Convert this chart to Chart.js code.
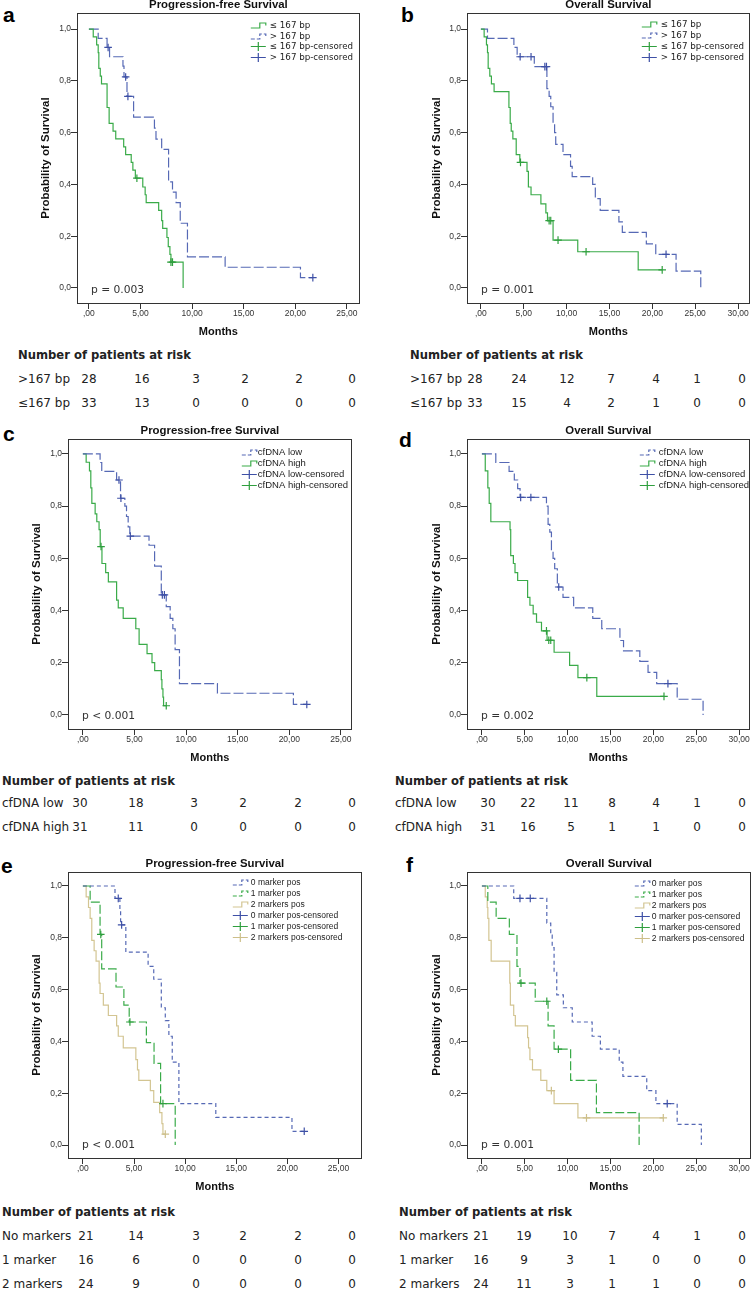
<!DOCTYPE html>
<html><head><meta charset="utf-8">
<script src="https://cdn.jsdelivr.net/npm/chart.js@4.4.1/dist/chart.umd.min.js"></script>
<style>
html,body{margin:0;padding:0;background:#fff;}
#fig{position:relative;width:755px;height:1293px;overflow:hidden;background:#fff;}
#fig canvas{position:absolute;}
.t{position:absolute;white-space:nowrap;font-family:"DejaVu Sans",sans-serif;color:#222;line-height:14px;}
.lbl{font-size:12px;transform:translateY(-50%);}
.num{font-size:12px;transform:translate(-50%,-50%);}
.hdr{font-size:11.6px;font-weight:bold;transform:translateY(-50%);}
.letter{position:absolute;font-family:"Liberation Sans",Arial,sans-serif;font-weight:bold;font-size:21px;line-height:21px;color:#000;}
</style></head><body><div id="fig"></div>
<script>
// ---------- axis ticks ----------
const TICKS_PFS = [0,5,10,15,20,25];
const TICKS_OS  = [0,5,10,15,20,25,30];
const TICKS_Y   = [0,0.2,0.4,0.6,0.8,1.0];

// ---------- panel a : PFS by fragment size ----------
const aLowT  = [0.42,0.75,0.9,0.96,1.1,1.22,1.76,1.96,2.34,2.6,3.37,3.56,4.1,4.26,4.5,5.22,5.45,5.55,6.76,7.05,7.15,7.56,7.69,7.85,7.95,9.13];
const aLowS  = [0.970,0.939,0.909,0.848,0.818,0.788,0.697,0.636,0.606,0.576,0.545,0.515,0.485,0.455,0.424,0.390,0.360,0.330,0.300,0.260,0.230,0.195,0.160,0.130,0.100,0];
const aLowC  = [4.65,7.95,8.1];
const aHighT = [0.9,1.76,2.0,3.3,3.4,3.69,4.33,6.35,6.5,7.05,7.72,8.1,8.45,8.85,9.55,13.2,20.5];
const aHighS = [0.964,0.929,0.893,0.857,0.815,0.740,0.660,0.617,0.575,0.535,0.410,0.370,0.330,0.250,0.120,0.080,0.040];
const aHighC = [1.86,3.56,3.78,21.7];

// ---------- panel b : OS by fragment size ----------
const bLowT  = [0.38,0.65,0.77,0.85,1.04,1.23,1.54,3.27,3.42,3.54,3.73,4.12,4.54,5.38,5.54,5.85,7.0,7.58,7.77,8.42,11.3,18.35];
const bLowS  = [0.970,0.939,0.909,0.848,0.818,0.788,0.758,0.697,0.636,0.606,0.576,0.515,0.485,0.450,0.390,0.360,0.325,0.290,0.260,0.185,0.140,0.070];
const bLowC  = [4.62,7.96,8.15,9.0,12.27,21.15];
const bHighT = [0.77,3.85,4.23,6.23,7.7,7.96,8.15,8.42,8.6,8.73,9.58,10.46,10.65,13.04,13.35,13.92,16.1,16.5,19.3,20.4,22.77,25.65];
const bHighS = [0.964,0.929,0.893,0.855,0.770,0.740,0.700,0.640,0.600,0.555,0.515,0.470,0.430,0.400,0.345,0.300,0.255,0.215,0.170,0.130,0.065,0];
const bHighC = [4.58,5.85,7.46,7.65,21.6];

// ---------- panel c : PFS by cfDNA ----------
const cLowT  = [1.67,1.83,3.27,3.65,4.07,4.23,4.39,4.55,6.41,6.95,7.6,8.08,8.46,8.72,8.94,9.36,13.04,20.4];
const cLowS  = [0.967,0.933,0.900,0.830,0.800,0.760,0.720,0.685,0.650,0.570,0.460,0.415,0.370,0.330,0.250,0.120,0.083,0.040];
const cLowC  = [3.5,3.69,4.6,7.7,7.9,21.7];
const cHighT = [0.32,0.64,0.77,0.87,1.19,1.35,1.57,1.68,1.85,2.21,2.47,3.27,3.43,3.91,5.13,5.45,6.22,6.7,6.96,7.6,7.66,7.76,7.82];
const cHighS = [0.968,0.935,0.870,0.810,0.770,0.740,0.710,0.645,0.580,0.545,0.510,0.440,0.410,0.370,0.330,0.270,0.235,0.200,0.170,0.135,0.100,0.068,0.035];
const cHighC = [1.76,8.08];

// ---------- panel d : OS by cfDNA ----------
const dLowT  = [1.62,3.17,3.78,4.17,4.45,7.53,7.72,7.92,8.11,8.3,8.49,8.8,9.46,10.7,12.93,13.98,16.1,16.52,18.42,19.38,20.39,22.78,25.8];
const dLowS  = [0.967,0.933,0.900,0.867,0.833,0.800,0.730,0.700,0.630,0.600,0.560,0.490,0.450,0.410,0.370,0.330,0.285,0.245,0.205,0.163,0.120,0.060,0];
const dLowC  = [4.52,5.71,8.96,21.7];
const dHighT = [0.39,0.69,0.85,1.04,3.28,3.36,3.67,3.86,4.17,5.33,5.6,5.98,6.37,6.95,7.6,8.42,10.23,11.2,13.4];
const dHighS = [0.935,0.870,0.810,0.740,0.710,0.610,0.580,0.545,0.515,0.450,0.420,0.387,0.355,0.322,0.286,0.240,0.190,0.143,0.071];
const dHighC = [7.53,7.8,8.03,12.24,21.24];

// ---------- panel e : PFS by number of markers ----------
const eZeroT = [3.14,3.62,3.69,4.2,6.38,6.93,7.67,8.06,8.41,8.74,9.39,13.0,20.45];
const eZeroS = [0.952,0.900,0.850,0.745,0.690,0.640,0.530,0.480,0.420,0.320,0.160,0.107,0.053];
const eZeroC = [3.46,3.79,21.65];
const eOneT  = [0.71,1.68,1.84,3.24,4.01,4.53,6.21,6.96,7.6,9.03];
const eOneS  = [0.938,0.813,0.680,0.610,0.540,0.475,0.395,0.315,0.160,0];
const eOneC  = [1.75,4.6,7.83];
const eTwoT  = [0.32,0.55,0.71,0.87,1.1,1.29,1.59,1.68,2.0,2.49,3.3,3.46,3.95,5.18,5.34,5.47,6.6,6.93,7.51,7.73,7.83];
const eTwoS  = [0.958,0.917,0.875,0.790,0.750,0.710,0.625,0.585,0.540,0.500,0.460,0.420,0.375,0.330,0.290,0.250,0.210,0.165,0.125,0.083,0.042];
const eTwoC  = [8.06];

// ---------- panel f : OS by number of markers ----------
const fZeroT = [3.71,7.57,8.03,8.2,8.42,8.73,9.5,10.54,12.86,13.82,16.02,16.45,19.23,20.3,22.78,25.6];
const fZeroS = [0.952,0.857,0.810,0.762,0.667,0.580,0.530,0.475,0.420,0.370,0.320,0.265,0.210,0.160,0.080,0];
const fZeroC = [4.44,5.64,21.62];
const fOneT  = [0.69,1.66,3.2,4.09,4.44,6.22,7.72,8.42,10.35,13.36,18.34];
const fOneS  = [0.938,0.875,0.813,0.690,0.625,0.555,0.460,0.370,0.250,0.125,0];
const fOneC  = [4.56,7.57,8.92];
const fTwoT  = [0.39,0.62,0.69,0.81,1.08,3.25,3.32,3.71,3.9,5.33,5.44,5.6,5.9,6.87,7.57,8.42,11.2];
const fTwoS  = [0.958,0.917,0.875,0.790,0.710,0.625,0.540,0.500,0.460,0.415,0.375,0.330,0.290,0.250,0.210,0.160,0.105];
const fTwoC  = [8.1,12.2,21.16];

// ---------- titles / p-values ----------
const TITLES = {a:'Progression-free Survival', b:'Overall Survival', c:'Progression-free Survival', d:'Overall Survival', e:'Progression-free Survival', f:'Overall Survival'};
const PVALS  = {a:'p = 0.003', b:'p = 0.001', c:'p < 0.001', d:'p = 0.002', e:'p < 0.001', f:'p = 0.001'};

// ---------- risk tables ----------
const riskA_labels = ['>167 bp','≤167 bp'];
const riskA = [[28,16,3,2,2,0],[33,13,0,0,0,0]];
const riskB_labels = ['>167 bp','≤167 bp'];
const riskB = [[28,24,12,7,4,1,0],[33,15,4,2,1,0,0]];
const riskC_labels = ['cfDNA low','cfDNA high'];
const riskC = [[30,18,3,2,2,0],[31,11,0,0,0,0]];
const riskD_labels = ['cfDNA low','cfDNA high'];
const riskD = [[30,22,11,8,4,1,0],[31,16,5,1,1,0,0]];
const riskE_labels = ['No markers','1 marker','2 markers'];
const riskE = [[21,14,3,2,2,0],[16,6,0,0,0,0],[24,9,0,0,0,0]];
const riskF_labels = ['No markers','1 marker','2 markers'];
const riskF = [[21,19,10,7,4,1,0],[16,9,3,1,0,0,0],[24,11,3,1,1,0,0]];

// ---------- styles ----------
const STYLES = {
  green:     {color:'#3aab49', cens:'#2f9f3e', dash:[]},
  blueLong:  {color:'#5669b5', cens:'#3e50a6', dash:[10,3]},
  blueShort: {color:'#5669b5', cens:'#3e50a6', dash:[4,3]},
  greenLong: {color:'#3aab49', cens:'#2f9f3e', dash:[9,3]},
  tan:       {color:'#d3c592', cens:'#cdbf8a', dash:[]}
};

const PANELS = [
  {id:'a', ticks:TICKS_PFS, series:[
    {name:'≤ 167 bp', T:aLowT, S:aLowS, C:aLowC, style:'green'},
    {name:'> 167 bp', T:aHighT, S:aHighS, C:aHighC, style:'blueLong'}]},
  {id:'b', ticks:TICKS_OS, series:[
    {name:'≤ 167 bp', T:bLowT, S:bLowS, C:bLowC, style:'green'},
    {name:'> 167 bp', T:bHighT, S:bHighS, C:bHighC, style:'blueLong'}]},
  {id:'c', ticks:TICKS_PFS, series:[
    {name:'cfDNA low', T:cLowT, S:cLowS, C:cLowC, style:'blueLong'},
    {name:'cfDNA high', T:cHighT, S:cHighS, C:cHighC, style:'green'}]},
  {id:'d', ticks:TICKS_OS, series:[
    {name:'cfDNA low', T:dLowT, S:dLowS, C:dLowC, style:'blueLong'},
    {name:'cfDNA high', T:dHighT, S:dHighS, C:dHighC, style:'green'}]},
  {id:'e', ticks:TICKS_PFS, series:[
    {name:'0 marker pos', T:eZeroT, S:eZeroS, C:eZeroC, style:'blueShort'},
    {name:'1 marker pos', T:eOneT, S:eOneS, C:eOneC, style:'greenLong'},
    {name:'2 markers pos', T:eTwoT, S:eTwoS, C:eTwoC, style:'tan'}]},
  {id:'f', ticks:TICKS_OS, series:[
    {name:'0 marker pos', T:fZeroT, S:fZeroS, C:fZeroC, style:'blueShort'},
    {name:'1 marker pos', T:fOneT, S:fOneS, C:fOneC, style:'greenLong'},
    {name:'2 markers pos', T:fTwoT, S:fTwoS, C:fTwoC, style:'tan'}]}
];

// ---------- layout (pixels) ----------
const GEOM = {
  a:{box:[77,362,13,303],  x:[-1.154,26.25], y:[-0.058,1.062], cl:39,  leg:[109,90,12,10.7], legFont:'8.7px "DejaVu Sans"', letter:[3,4]},
  b:{box:[467,752,13,303], x:[-1.62,31.37],  y:[-0.058,1.062], cl:430, leg:[108,89,11,11],   legFont:'8.7px "DejaVu Sans"', letter:[401,4]},
  c:{box:[68,354,439,729], x:[-1.44,26.06],  y:[-0.054,1.057], cl:30,  leg:[110,94,13,11],   legFont:'9.5px "Liberation Sans"', letter:[3,423]},
  d:{box:[467,752,439,729],x:[-1.74,31.25],  y:[-0.054,1.057], cl:430, leg:[110,91,13,11],   legFont:'9.5px "Liberation Sans"', letter:[399,429]},
  e:{box:[68,364,872,1158],x:[-1.456,27.28], y:[-0.050,1.054], cl:30,  leg:[129,111,10,11],  legFont:'8.5px "Liberation Sans"', letter:[1,855]},
  f:{box:[467,753,872,1158],x:[-1.74,31.37], y:[-0.050,1.054], cl:430, leg:[116,99,11,11],   legFont:'8.6px "Liberation Sans"', letter:[406,854]}
};
const TABLES = {
  a:{labels:riskA_labels, rows:riskA, x:18,  hy:355,  ry:[379,403],      cols:[89,142,196,245,299,352]},
  b:{labels:riskB_labels, rows:riskB, x:410, hy:355,  ry:[379,403],      cols:[475,519,567,611,656,697,742]},
  c:{labels:riskC_labels, rows:riskC, x:2,   hy:781,  ry:[803,827],      cols:[80,136,194,243,298,352]},
  d:{labels:riskD_labels, rows:riskD, x:395, hy:781,  ry:[803,827],      cols:[488,528,571,612,656,697,742]},
  e:{labels:riskE_labels, rows:riskE, x:2,   hy:1212, ry:[1236,1260,1284],cols:[86,136,196,243,298,352]},
  f:{labels:riskF_labels, rows:riskF, x:399, hy:1212, ry:[1236,1260,1284],cols:[481,524,570,612,656,697,742]}
};

// ---------- helpers ----------
function stepPoints(T,S,C){
  const pts=[{x:0,y:1}];
  T.forEach((t,i)=>pts.push({x:t,y:S[i]}));
  const lastT=T[T.length-1];
  const lastC=C.length?Math.max(...C):0;
  if(lastC>lastT) pts.push({x:lastC,y:S[S.length-1]});
  return pts;
}
function survAt(T,S,t){let v=1;for(let i=0;i<T.length;i++){if(T[i]<=t)v=S[i];}return v;}
const fmtX=v=>v===0?',00':v.toFixed(2).replace('.',',');
const fmtY=v=>v.toFixed(1).replace('.',',');
const al=(p)=>Math.round(p-0.5)+0.5;

const decor={
  id:'decor',
  afterDraw(chart,args,o){
    const {ctx,chartArea:ca}=chart;
    ctx.save();
    ctx.strokeStyle='#333';ctx.lineWidth=1;ctx.setLineDash([]);
    ctx.strokeRect(al(ca.left),al(ca.top),al(ca.right)-al(ca.left),al(ca.bottom)-al(ca.top));
    // legend
    const [sdx,tdx,dy,gap]=o.leg;
    const sx=ca.right-sdx, tx=ca.right-tdx;
    ctx.font=o.legFont;ctx.textBaseline='middle';ctx.textAlign='left';
    o.items.forEach((it,i)=>{
      const y=Math.round(ca.top+dy+i*gap)+0.5;
      ctx.strokeStyle=it.color;ctx.lineWidth=1.2;
      if(it.kind==='line'){
        ctx.setLineDash(it.dash.length?[4,2]:[]);
        ctx.beginPath();ctx.moveTo(sx,y+2.5);ctx.lineTo(sx+9,y+2.5);ctx.lineTo(sx+9,y-2.5);ctx.lineTo(sx+15,y-2.5);ctx.lineTo(sx+15,y);ctx.stroke();
      }else{
        ctx.setLineDash([]);
        ctx.beginPath();ctx.moveTo(sx,y);ctx.lineTo(sx+15,y);ctx.moveTo(sx+7.5,y-4.5);ctx.lineTo(sx+7.5,y+4.5);ctx.stroke();
      }
      ctx.fillStyle='#222';ctx.fillText(it.label,tx,y);
    });
    // p-value
    ctx.font='10.7px "DejaVu Sans"';ctx.fillStyle='#333';ctx.textBaseline='middle';
    ctx.fillText(o.p,ca.left+14,ca.bottom-13);
    ctx.restore();
  }
};

const fig=document.getElementById('fig');
PANELS.forEach(p=>{
  const g=GEOM[p.id];
  const TOP=14, XH=36, RP=3;
  const W=g.box[1]+RP-g.cl, H=g.box[3]-g.box[2]+TOP+XH;
  const cv=document.createElement('canvas');
  cv.width=W;cv.height=H;cv.style.width=W+'px';cv.style.height=H+'px';
  cv.style.left=g.cl+'px';cv.style.top=(g.box[2]-TOP)+'px';
  fig.appendChild(cv);
  const ds=[];
  p.series.forEach(s=>{const st=STYLES[s.style];
    ds.push({type:'scatter',label:s.name,data:stepPoints(s.T,s.S,s.C),showLine:true,stepped:'before',
      borderColor:st.color,backgroundColor:st.color,borderWidth:1.2,borderDash:st.dash,pointRadius:0,fill:false,order:2});});
  p.series.forEach(s=>{const st=STYLES[s.style];
    ds.push({type:'scatter',label:s.name+'-censored',data:s.C.map(t=>({x:t,y:survAt(s.T,s.S,t)})),showLine:false,
      pointStyle:'cross',pointRadius:3.8,borderColor:st.cens,backgroundColor:st.cens,borderWidth:1.2,order:1});});
  const items=p.series.map(s=>({label:s.name,kind:'line',color:STYLES[s.style].color,dash:STYLES[s.style].dash}))
    .concat(p.series.map(s=>({label:s.name+'-censored',kind:'cens',color:STYLES[s.style].cens})));
  new Chart(cv,{
    type:'scatter',
    data:{datasets:ds},
    options:{
      responsive:false,animation:false,events:[],devicePixelRatio:1,
      layout:{padding:{left:0,right:RP,top:0,bottom:0}},
      plugins:{
        legend:{display:false},tooltip:{enabled:false},
        title:{display:true,fullSize:false,text:TITLES[p.id],color:'#111',
          font:{family:'"Liberation Sans", Arial, sans-serif',size:11.4,weight:'bold',lineHeight:'12px'},padding:{top:0,bottom:2}},
        decor:{leg:g.leg,legFont:g.legFont,items:items,p:PVALS[p.id]}
      },
      scales:{
        x:{type:'linear',min:g.x[0],max:g.x[1],
          afterBuildTicks:s=>{s.ticks=p.ticks.map(v=>({value:v}));},
          afterFit:s=>{s.height=XH;s.paddingLeft=0;s.paddingRight=0;},
          ticks:{callback:v=>fmtX(v),font:{family:'"Liberation Sans", Arial, sans-serif',size:8.5},color:'#333',padding:0,maxRotation:0,autoSkip:false},
          grid:{drawOnChartArea:false,drawTicks:true,tickLength:6,color:'#333',lineWidth:1},
          border:{display:true,color:'#333',width:1},
          title:{display:true,text:'Months',color:'#111',font:{family:'"Liberation Sans", Arial, sans-serif',size:11,weight:'bold',lineHeight:'14px'},padding:{top:0,bottom:0}}
        },
        y:{type:'linear',min:g.y[0],max:g.y[1],
          afterBuildTicks:s=>{s.ticks=TICKS_Y.map(v=>({value:v}));},
          afterFit:s=>{s.width=g.box[0]-g.cl;s.paddingTop=0;s.paddingBottom=0;},
          ticks:{callback:v=>fmtY(v),font:{family:'"Liberation Sans", Arial, sans-serif',size:8.5},color:'#333',padding:0,autoSkip:false},
          grid:{drawOnChartArea:false,drawTicks:true,tickLength:6,color:'#333',lineWidth:1},
          border:{display:true,color:'#333',width:1},
          title:{display:true,text:'Probability of Survival',color:'#111',font:{family:'"Liberation Sans", Arial, sans-serif',size:11.5,weight:'bold',lineHeight:'14px'},padding:{top:0,bottom:0}}
        }
      }
    },
    plugins:[decor]
  });
  // panel letter
  const L=document.createElement('div');L.className='letter';L.textContent=p.id;
  L.style.left=g.letter[0]+'px';L.style.top=g.letter[1]+'px';fig.appendChild(L);
  // risk table
  const tb=TABLES[p.id];
  const h=document.createElement('div');h.className='t hdr';h.textContent='Number of patients at risk';
  h.style.left=tb.x+'px';h.style.top=tb.hy+'px';fig.appendChild(h);
  tb.rows.forEach((row,ri)=>{
    const l=document.createElement('div');l.className='t lbl';l.textContent=tb.labels[ri];
    l.style.left=tb.x+'px';l.style.top=tb.ry[ri]+'px';fig.appendChild(l);
    row.forEach((v,ci)=>{
      const n=document.createElement('div');n.className='t num';n.textContent=String(v);
      n.style.left=tb.cols[ci]+'px';n.style.top=tb.ry[ri]+'px';fig.appendChild(n);
    });
  });
});
</script></body></html>
